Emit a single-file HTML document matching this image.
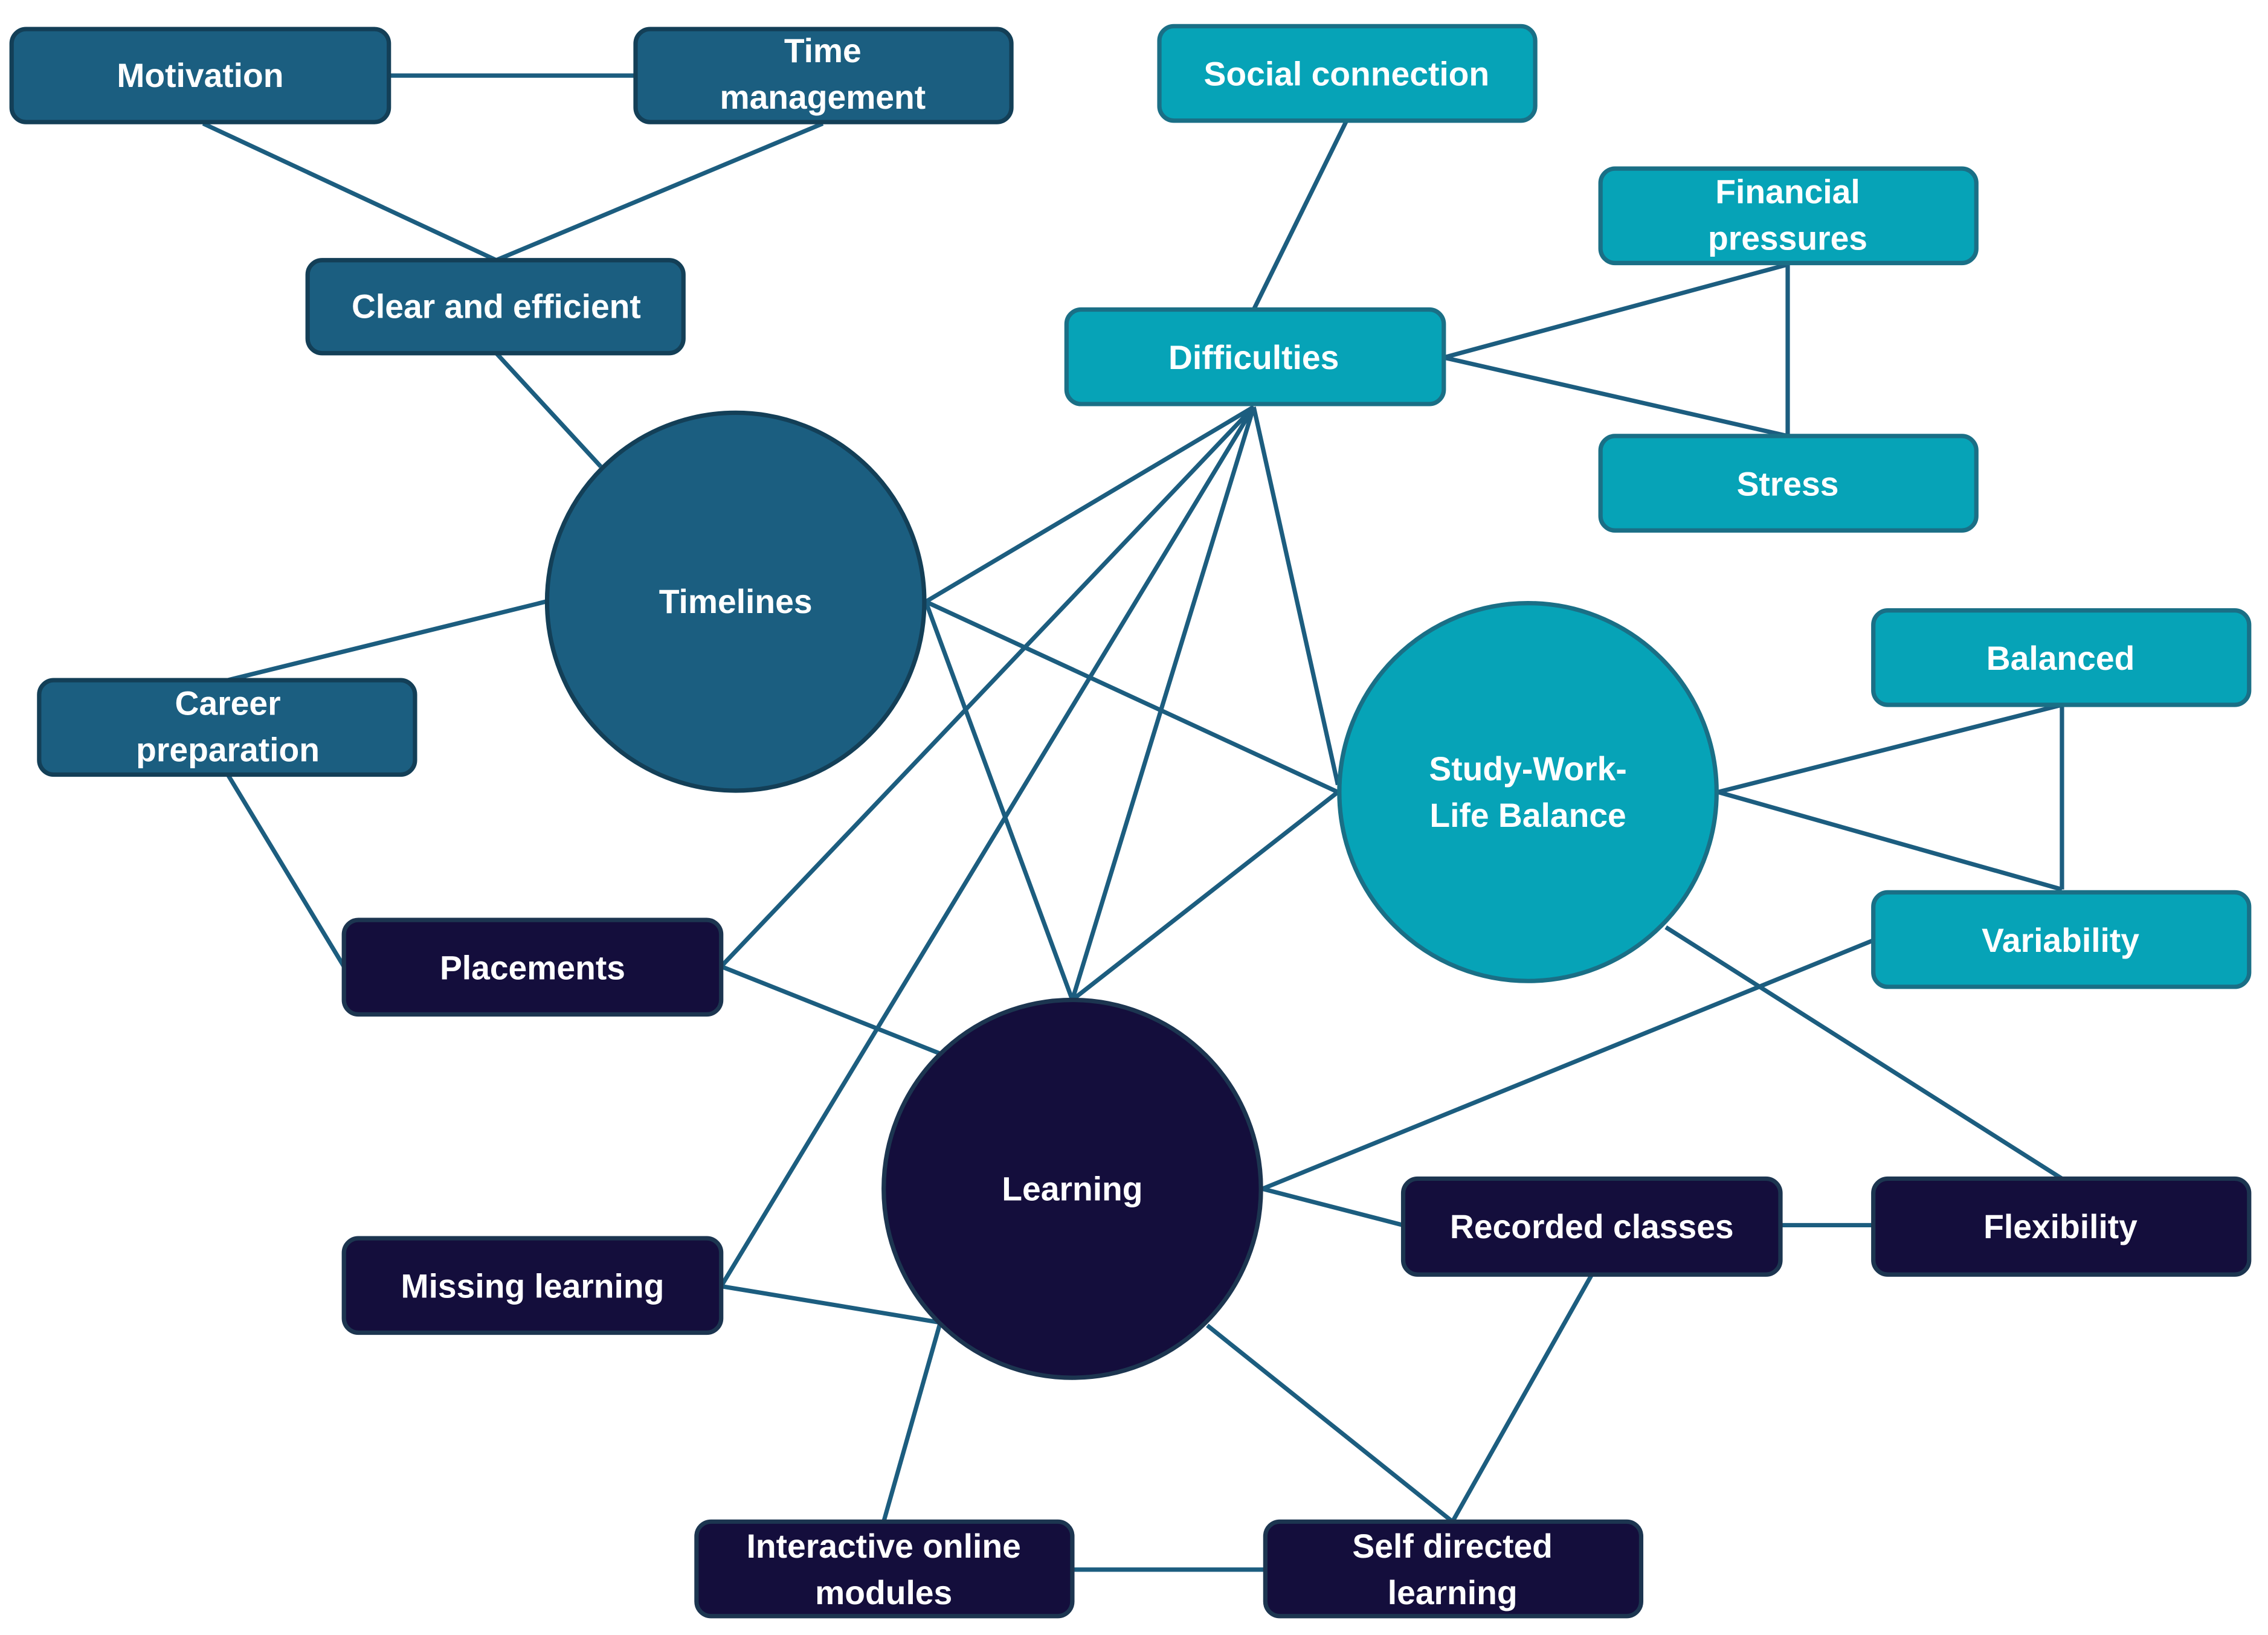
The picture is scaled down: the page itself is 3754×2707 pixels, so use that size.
<!DOCTYPE html>
<html><head><meta charset="utf-8"><style>
html,body{margin:0;padding:0;background:#fff;}
svg{display:block;}
text{font-family:"Liberation Sans",sans-serif;font-weight:bold;fill:#fff;font-size:23px;text-anchor:middle;dominant-baseline:central;}
</style></head><body>
<svg width="3754" height="2707" viewBox="0 0 1563 1125" preserveAspectRatio="none" xmlns="http://www.w3.org/2000/svg">
<g stroke="#1c5d7f" stroke-width="3" fill="none">
<line x1="268" y1="52" x2="438" y2="52"/>
<line x1="140" y1="85" x2="342" y2="179"/>
<line x1="567" y1="85" x2="342" y2="179"/>
<line x1="342" y1="243" x2="414" y2="321"/>
<line x1="928" y1="83" x2="864" y2="213"/>
<line x1="995" y1="246" x2="1232" y2="182"/>
<line x1="995" y1="246" x2="1232" y2="300"/>
<line x1="1232" y1="182" x2="1232" y2="300"/>
<line x1="864" y1="280" x2="638" y2="414"/>
<line x1="864" y1="280" x2="497" y2="665"/>
<line x1="864" y1="280" x2="497" y2="885"/>
<line x1="864" y1="280" x2="739" y2="688"/>
<line x1="864" y1="280" x2="922" y2="540"/>
<line x1="638" y1="414" x2="922" y2="545"/>
<line x1="638" y1="414" x2="739" y2="688"/>
<line x1="376" y1="414" x2="157" y2="468"/>
<line x1="157" y1="533" x2="237" y2="665"/>
<line x1="922" y1="545" x2="739" y2="688"/>
<line x1="1184" y1="545" x2="1421" y2="485"/>
<line x1="1184" y1="545" x2="1421" y2="612"/>
<line x1="1421" y1="485" x2="1421" y2="612"/>
<line x1="1148" y1="638" x2="1421" y2="811"/>
<line x1="1291" y1="647" x2="870" y2="818"/>
<line x1="497" y1="665" x2="648" y2="725"/>
<line x1="870" y1="818" x2="967" y2="843"/>
<line x1="1227" y1="843" x2="1291" y2="843"/>
<line x1="497" y1="885" x2="648" y2="910"/>
<line x1="648" y1="910" x2="609" y2="1047"/>
<line x1="832" y1="912" x2="1001" y2="1047"/>
<line x1="1097" y1="877" x2="1001" y2="1047"/>
<line x1="739" y1="1080" x2="872" y2="1080"/>
</g>
<g stroke-width="3">
<g fill="#1b5e80" stroke="#133f57">
<rect x="8" y="20" width="260" height="64" rx="10"/>
<rect x="438" y="20" width="259" height="64" rx="10"/>
<rect x="212" y="179" width="259" height="64" rx="10"/>
<rect x="27" y="468" width="259" height="65" rx="10"/>
<circle cx="507" cy="414" r="130"/>
</g>
<g fill="#06a3b7" stroke="#1a6f86">
<rect x="799" y="18" width="259" height="65" rx="10"/>
<rect x="1103" y="116" width="259" height="65" rx="10"/>
<rect x="735" y="213" width="260" height="65" rx="10"/>
<rect x="1103" y="300" width="259" height="65" rx="10"/>
<rect x="1291" y="420" width="259" height="65" rx="10"/>
<rect x="1291" y="614" width="259" height="65" rx="10"/>
<circle cx="1053" cy="545" r="130"/>
</g>
<g fill="#140e3c" stroke="#1c3550">
<rect x="237" y="633" width="260" height="65" rx="10"/>
<rect x="237" y="852" width="260" height="65" rx="10"/>
<rect x="967" y="811" width="260" height="66" rx="10"/>
<rect x="1291" y="811" width="259" height="66" rx="10"/>
<rect x="480" y="1047" width="259" height="65" rx="10"/>
<rect x="872" y="1047" width="259" height="65" rx="10"/>
<circle cx="739" cy="818" r="130"/>
</g>
</g>
<text x="138" y="52">Motivation</text>
<text x="567" y="35">Time</text><text x="567" y="67">management</text>
<text x="342" y="211">Clear and efficient</text>
<text x="157" y="484">Career</text><text x="157" y="516">preparation</text>
<text x="507" y="414">Timelines</text>
<text x="928" y="51">Social connection</text>
<text x="1232" y="132">Financial</text><text x="1232" y="164">pressures</text>
<text x="864" y="246">Difficulties</text>
<text x="1232" y="333">Stress</text>
<text x="1420" y="453">Balanced</text>
<text x="1420" y="647">Variability</text>
<text x="1053" y="529">Study-Work-</text><text x="1053" y="561">Life Balance</text>
<text x="367" y="666">Placements</text>
<text x="367" y="885">Missing learning</text>
<text x="739" y="818">Learning</text>
<text x="1097" y="844">Recorded classes</text>
<text x="1420" y="844">Flexibility</text>
<text x="609" y="1064">Interactive online</text><text x="609" y="1096">modules</text>
<text x="1001" y="1064">Self directed</text><text x="1001" y="1096">learning</text>
</svg>
</body></html>
